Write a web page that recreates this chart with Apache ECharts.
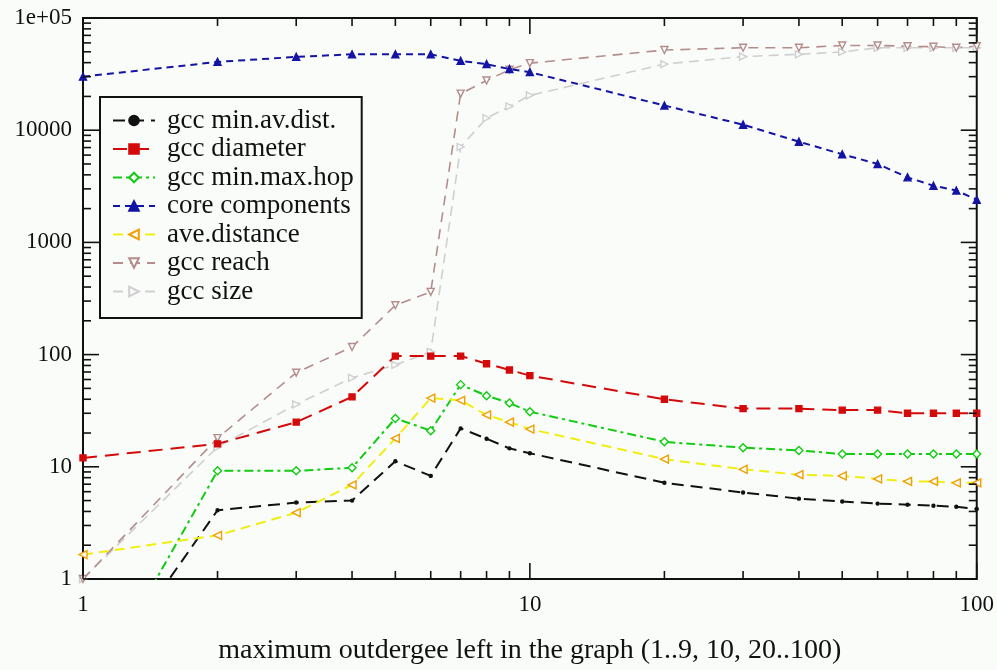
<!DOCTYPE html>
<html>
<head>
<meta charset="utf-8">
<script src="https://cdn.jsdelivr.net/npm/echarts@6/dist/echarts.min.js"></script>
<style>
  html, body { margin: 0; padding: 0; background: #fafcfa; overflow: hidden; }
  #chart { width: 997px; height: 670px; }
</style>
</head>
<body>
<div id="chart"></div>
<script>
// x values: maximum outdegree left in the graph
var outdegree = [1, 2, 3, 4, 5, 6, 7, 8, 9, 10, 20, 30, 40, 50, 60, 70, 80, 90, 100];

// series values
var gccMinAvDist = [0.08, 4.1, 4.8, 5.0, 11.2, 8.3, 22, 17.8, 14.6, 13.2, 7.2, 5.9, 5.2, 4.9, 4.7, 4.6, 4.5, 4.4, 4.2];
var gccDiameter = [12, 16, 25, 42, 97, 97, 97, 83, 73, 65, 40, 33, 33, 32, 32, 30, 30, 30, 30];
var gccMinMaxHop = [0.07, 9.2, 9.2, 9.8, 27, 21, 54, 43, 37, 31, 16.7, 14.8, 14, 13, 13, 13, 13, 13, 13];
var coreComponents = [30000, 40600, 45000, 47500, 47500, 47500, 41500, 38800, 35100, 32900, 16600, 11200, 7900, 6100, 5000, 3800, 3200, 2900, 2400];
var aveDistance = [1.65, 2.45, 3.9, 6.9, 17.9, 41, 39, 29, 25, 21.7, 11.7, 9.5, 8.5, 8.3, 7.8, 7.4, 7.4, 7.2, 7.2];
var gccReach = [1, 18, 69, 117, 275, 362, 21200, 27700, 34600, 39600, 51800, 54300, 54300, 56900, 56900, 56000, 55500, 54300, 56000];
var gccSize = [1, 15, 36, 62, 81, 106, 7100, 12800, 16300, 20400, 38800, 45300, 47500, 49800, 54300, 54300, 54300, 54300, 54300];

// tick positions
var xMajorTicks = [1, 10, 100];
var xMinorTicks = [2, 3, 4, 5, 6, 7, 8, 9, 20, 30, 40, 50, 60, 70, 80, 90];
var yMajorTicks = [1, 10, 100, 1000, 10000, 100000];
var yMinorTicks = [];
[1, 10, 100, 1000, 10000].forEach(function (d) {
    for (var k = 2; k <= 9; k++) yMinorTicks.push(k * d);
});

var X_MIN = 1, X_MAX = 100, Y_MIN = 1, Y_MAX = 100000;
var BG = '#fafcfa';
var FONT = 'Liberation Serif';

function pairs(ys) {
    return outdegree.map(function (x, i) { return [x, ys[i]]; });
}

// tick marks on all four sides, drawn inward
var tickData = [];
xMinorTicks.forEach(function (v) { tickData.push([v, Y_MIN, 0]); });
xMajorTicks.forEach(function (v) { tickData.push([v, Y_MIN, 1]); });
yMinorTicks.forEach(function (v) { tickData.push([X_MIN, v, 2]); });
yMajorTicks.forEach(function (v) { tickData.push([X_MIN, v, 3]); });

function renderTick(params, api) {
    var kind = api.value(2);
    var len = kind % 2 ? 16 : 8;
    var segs;
    if (kind < 2) {
        var b = api.coord([api.value(0), Y_MIN]);
        var t = api.coord([api.value(0), Y_MAX]);
        segs = [[b[0], b[1], b[0], b[1] - len], [t[0], t[1], t[0], t[1] + len]];
    } else {
        var l = api.coord([X_MIN, api.value(1)]);
        var r = api.coord([X_MAX, api.value(1)]);
        segs = [[l[0], l[1], l[0] + len, l[1]], [r[0], r[1], r[0] - len, r[1]]];
    }
    return {
        type: 'group',
        children: segs.map(function (s) {
            return {
                type: 'line',
                shape: { x1: s[0], y1: s[1], x2: s[2], y2: s[3] },
                style: { stroke: '#111', lineWidth: 1.6 }
            };
        })
    };
}

function lineSeries(name, ys, color, dash, symbol, opts) {
    opts = opts || {};
    return {
        name: name,
        type: 'line',
        data: pairs(ys),
        clip: true,
        symbol: symbol,
        symbolSize: opts.size || 7,
        symbolRotate: opts.rotate || 0,
        showAllSymbol: true,
        lineStyle: { color: color, width: opts.width || 2, type: dash },
        itemStyle: {
            color: opts.fill || BG,
            borderColor: opts.markColor || color,
            borderWidth: 1.4
        },
        z: opts.z || 3
    };
}

var myChart = echarts.init(document.getElementById('chart'), null, { renderer: 'canvas' });

var option = {
    backgroundColor: BG,
    animation: false,
    grid: {
        left: 83, right: 19, top: 18, bottom: 80,
        show: true, borderColor: '#111', borderWidth: 2
    },
    legend: {
        orient: 'vertical',
        left: 100,
        top: 97,
        padding: [10, 8, 13, 12],
        itemWidth: 42,
        itemHeight: 12,
        itemGap: 1.5,
        backgroundColor: BG,
        borderColor: '#111',
        borderWidth: 2,
        textStyle: { fontFamily: FONT, fontSize: 27, color: '#111', lineHeight: 27, padding: [0, 0, 0, 7] },
        data: ['gcc min.av.dist.', 'gcc diameter', 'gcc min.max.hop', 'core components',
               'ave.distance', 'gcc reach', 'gcc size']
    },
    xAxis: {
        type: 'log',
        logBase: 10,
        min: X_MIN,
        max: X_MAX,
        name: 'maximum outdergee left in the graph (1..9, 10, 20..100)',
        nameLocation: 'middle',
        nameGap: 58,
        nameTextStyle: { fontFamily: FONT, fontSize: 28, color: '#111' },
        axisLine: { show: false },
        axisTick: { show: false },
        splitLine: { show: false },
        axisLabel: { fontFamily: FONT, fontSize: 23, color: '#111', margin: 14 }
    },
    yAxis: {
        type: 'log',
        logBase: 10,
        min: Y_MIN,
        max: Y_MAX,
        axisLine: { show: false },
        axisTick: { show: false },
        splitLine: { show: false },
        axisLabel: {
            fontFamily: FONT, fontSize: 23, color: '#111', margin: 11,
            formatter: function (v) { return Math.round(v) === 100000 ? '1e+05' : String(Math.round(v)); }
        }
    },
    series: [
        {
            type: 'custom',
            renderItem: renderTick,
            data: tickData,
            clip: false,
            silent: true,
            z: 5
        },
        lineSeries('gcc size', gccSize, '#cfcfcf', [10, 6], 'triangle', { rotate: -90, width: 1.6, z: 2 }),
        lineSeries('gcc reach', gccReach, '#b48c8c', [10, 7], 'triangle', { rotate: 180, width: 1.6, z: 2 }),
        lineSeries('gcc min.av.dist.', gccMinAvDist, '#111', [12, 7], 'circle', { size: 3, fill: '#111' }),
        lineSeries('gcc diameter', gccDiameter, '#d40a0a', [14, 8], 'rect', { size: 6, fill: '#d40a0a' }),
        lineSeries('gcc min.max.hop', gccMinMaxHop, '#11cc11', [9, 4, 3, 4], 'diamond', { size: 8 }),
        lineSeries('core components', coreComponents, '#1414a4', [7, 5], 'triangle', { size: 7, fill: '#1414a4' }),
        lineSeries('ave.distance', aveDistance, '#f0ee10', [10, 6], 'triangle', { rotate: 90, size: 8, markColor: '#f0a000' })
    ]
};

myChart.setOption(option);
</script>
</body>
</html>
